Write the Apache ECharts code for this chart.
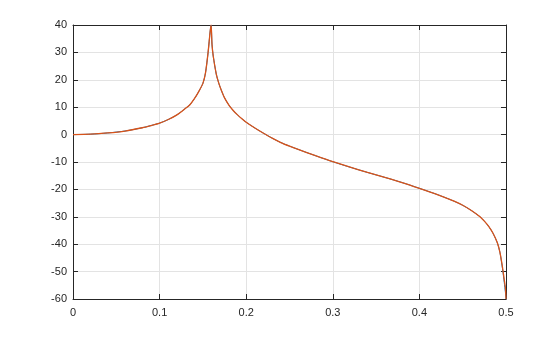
<!DOCTYPE html>
<html>
<head>
<meta charset="utf-8">
<script src="https://cdn.jsdelivr.net/npm/echarts@6/dist/echarts.min.js"></script>
<style>html,body{margin:0;padding:0;background:#fff}#c{width:560px;height:337px}</style>
</head>
<body>
<div id="c"></div>
<script>
// Hand-read values from the reference chart
const xValues = [0, 0.02, 0.04, 0.06, 0.08, 0.09, 0.10, 0.11, 0.12, 0.13, 0.135, 0.14, 0.145, 0.15, 0.153, 0.156, 0.1585, 0.1595,
  0.1605, 0.162, 0.1655, 0.1685, 0.1715, 0.175, 0.18, 0.185, 0.19, 0.195, 0.20, 0.21, 0.22, 0.23, 0.24, 0.25, 0.26, 0.28, 0.30, 0.32, 0.34, 0.36, 0.38, 0.40,
  0.42, 0.44, 0.45, 0.46, 0.47, 0.475, 0.48, 0.485, 0.49, 0.493, 0.496, 0.498, 0.4993, 0.5];
const seriesA = [0, 0.15, 0.6, 1.3, 2.5, 3.3, 4.2, 5.5, 7.2, 9.6, 10.9, 13.0, 15.6, 18.7, 22.5, 30, 38, 40,
  33, 28.5, 22, 18.6, 16, 13.4, 10.8, 8.8, 7.2, 5.8, 4.5, 2.4, 0.5, -1.3, -2.9, -4.2, -5.4, -7.7, -9.9, -11.9, -13.8, -15.6, -17.5, -19.6,
  -21.8, -24.3, -25.8, -27.7, -30, -31.6, -33.5, -36, -39.5, -43, -49, -54, -57.5, -60];
const seriesB = [0, 0.15, 0.6, 1.3, 2.5, 3.3, 4.2, 5.5, 7.2, 9.6, 10.9, 13.0, 15.6, 18.7, 22.5, 30, 38, 40,
  33, 28.5, 22, 18.6, 16, 13.4, 10.8, 8.8, 7.2, 5.8, 4.5, 2.4, 0.5, -1.3, -2.9, -4.2, -5.4, -7.7, -9.9, -11.9, -13.8, -15.6, -17.5, -19.6,
  -21.8, -24.3, -25.8, -27.7, -30, -31.6, -33.5, -36, -39.5, -43, -48.5, -53, -56, -60];
const xTicks = [0, 0.1, 0.2, 0.3, 0.4, 0.5];
const yTicks = [-60, -50, -40, -30, -20, -10, 0, 10, 20, 30, 40];

const pairs = (ys) => xValues.map((x, i) => [x, ys[i]]);
const font = {fontFamily: 'Liberation Sans, Helvetica, Arial, sans-serif', fontSize: 11, color: '#262626'};
const gridLine = {show: true, lineStyle: {color: '#e3e3e3', width: 1}};
const axLine = {show: true, onZero: false, lineStyle: {color: '#262626', width: 1}};
const tick = {show: true, inside: true, length: 5, lineStyle: {color: '#262626'}};

const chart = echarts.init(document.getElementById('c'), null, {renderer: 'canvas'});
chart.setOption({
  animation: false,
  backgroundColor: '#fff',
  grid: {left: 73, right: 54, top: 25, bottom: 38, containLabel: false},
  xAxis: [
    {type: 'value', min: xTicks[0], max: xTicks[xTicks.length - 1], interval: 0.1,
     axisLine: axLine, axisTick: tick, splitLine: gridLine,
     axisLabel: Object.assign({margin: 8, formatter: v => String(+v.toFixed(1))}, font)},
    {type: 'value', position: 'top', min: xTicks[0], max: xTicks[xTicks.length - 1], interval: 0.1,
     axisLine: axLine, axisTick: tick, splitLine: {show: false}, axisLabel: {show: false}}
  ],
  yAxis: [
    {type: 'value', min: yTicks[0], max: yTicks[yTicks.length - 1], interval: 10,
     axisLine: axLine, axisTick: tick, splitLine: gridLine,
     axisLabel: Object.assign({margin: 6}, font)},
    {type: 'value', position: 'right', min: yTicks[0], max: yTicks[yTicks.length - 1], interval: 10,
     axisLine: axLine, axisTick: tick, splitLine: {show: false}, axisLabel: {show: false}}
  ],
  series: [
    {type: 'line', data: pairs(seriesA), showSymbol: false, smooth: 0.25, clip: true,
     lineStyle: {color: '#0072BD', width: 1.0}, itemStyle: {color: '#0072BD'}},
    {type: 'line', data: pairs(seriesB), showSymbol: false, smooth: 0.25, clip: true,
     lineStyle: {color: '#D95319', width: 1.3}, itemStyle: {color: '#D95319'}}
  ]
});
</script>
</body>
</html>
